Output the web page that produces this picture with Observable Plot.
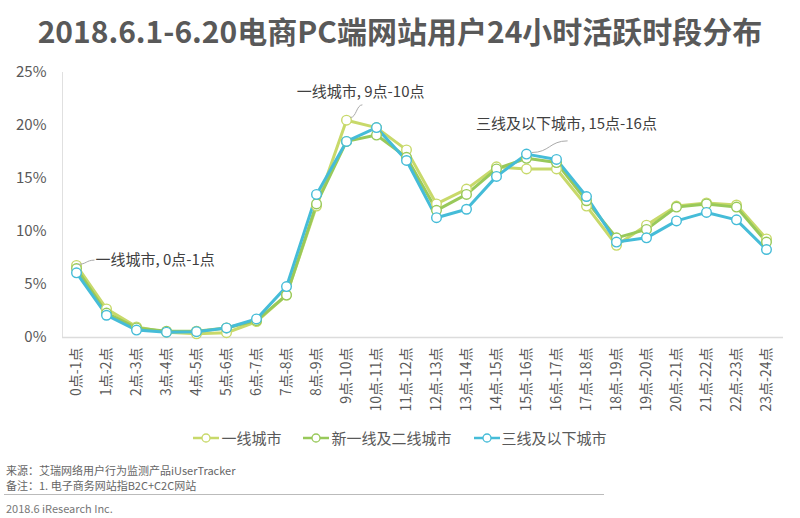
<!DOCTYPE html>
<html><head><meta charset="utf-8">
<script src="https://cdn.jsdelivr.net/npm/d3@7"></script>
<script src="https://cdn.jsdelivr.net/npm/@observablehq/plot@0.6"></script>
<style>
body{margin:0;background:#fff;font-family:"Noto Sans CJK SC","Noto Sans",sans-serif;}
#wrap{position:relative;width:800px;height:518px;overflow:hidden;background:#fff;}
#title{position:absolute;left:0;top:11px;width:800px;text-align:center;font-size:30px;font-weight:bold;color:#595959;line-height:38px;}
#chart{position:absolute;left:0;top:58px;}
#legend{position:absolute;left:0;top:427px;width:800px;display:flex;justify-content:center;gap:22px;font-size:15px;color:#595959;line-height:22px;}
#legend .item{display:flex;align-items:center;}
#legend svg{margin-right:2px;}
.foot{position:absolute;left:6px;font-size:11px;color:#666;line-height:14px;}
#sep{position:absolute;left:4px;top:494px;width:600px;height:1px;background:#bbb;}
</style></head>
<body><div id="wrap">
<div id="title">2018.6.1-6.20电商PC端网站用户24小时活跃时段分布</div>
<div id="chart"></div>
<div id="legend"></div>
<div class="foot" style="top:463px">来源：艾瑞网络用户行为监测产品iUserTracker</div>
<div class="foot" style="top:478px">备注：1. 电子商务网站指B2C+C2C网站</div>
<div id="sep"></div>
<div class="foot" style="top:501px;color:#777">2018.6 iResearch Inc.</div>
</div>
<script>
const hours = ["0点-1点","1点-2点","2点-3点","3点-4点","4点-5点","5点-6点","6点-7点","7点-8点","8点-9点","9点-10点","10点-11点","11点-12点","12点-13点","13点-14点","14点-15点","15点-16点","16点-17点","17点-18点","18点-19点","19点-20点","20点-21点","21点-22点","22点-23点","23点-24点"];
const seriesNames = ["一线城市","新一线及二线城市","三线及以下城市"];
const seriesColors = ["#c8d96a","#98c95a","#45bcd8"];
const tier1 = [6.8,2.7,1.0,0.5,0.35,0.45,1.5,4.0,12.4,20.5,19.8,17.7,12.6,14.0,16.1,15.9,15.9,12.4,8.7,10.6,12.4,12.7,12.5,9.3];
const tier2 = [6.5,2.3,0.9,0.6,0.6,0.9,1.6,4.0,12.6,18.5,19.1,17.0,12.0,13.5,15.9,16.9,16.5,12.9,9.4,10.2,12.3,12.6,12.3,9.0];
const tier3 = [6.1,2.1,0.7,0.5,0.55,0.9,1.75,4.8,13.5,18.5,19.8,16.7,11.3,12.1,15.2,17.3,16.8,13.3,9.0,9.4,11.0,11.8,11.1,8.3];
const yTicks = [0,5,10,15,20,25];
const notesLeft = [
  {text:"一线城市, 0点-1点", x:0.05, y:6.9, lx:0.6, ly:7.3, tx:0.63, ty:7.25}
];
const notesCenter = [
  {text:"一线城市, 9点-10点", x:9.13, y:20.75, lx:9.53, ly:21.95, tx:9.47, ty:23.1},
  {text:"三线及以下城市, 15点-16点", x:15.17, y:17.45, lx:16.37, ly:18.55, tx:16.33, ty:20.1}
];

const allSeries = [tier1, tier2, tier3];
const rows = allSeries.flatMap((vals, s) => vals.map((v, i) => ({i, v, s: seriesNames[s]})));
const notes = notesLeft.concat(notesCenter);

const chart = Plot.plot({
  width: 800, height: 370,
  marginTop: 14, marginBottom: 91, marginLeft: 62, marginRight: 17,
  style: {fontFamily: '"Noto Sans CJK SC","Noto Sans",sans-serif', color: "#595959", background: "#fff"},
  x: {domain: [-0.467, 23.567], label: null},
  y: {domain: [0, 25], label: null},
  color: {domain: seriesNames, range: seriesColors},
  marks: [
    Plot.ruleX([-0.467], {stroke: "#e0e0e0", strokeWidth: 1}),
    Plot.ruleY([0], {stroke: "#dcdcdc", strokeWidth: 1.5}),
    Plot.axisX({ticks: d3.range(hours.length), tickFormat: i => hours[i], tickSize: 0, tickPadding: 10, tickRotate: -90, fontSize: 14, fill: "#595959", label: null}),
    Plot.axisY({ticks: yTicks, tickFormat: d => d + "%", tickSize: 0, tickPadding: 16, fontSize: 15, fill: "#595959", label: null}),
    Plot.line(rows, {x: "i", y: "v", z: "s", stroke: "s", strokeWidth: 3}),
    Plot.dot(rows, {x: "i", y: "v", stroke: "s", fill: "#fff", r: 4.8, strokeWidth: 1.4}),
    Plot.link(notes, {x1: "x", y1: "y", x2: "lx", y2: "ly", stroke: "#aaa", strokeWidth: 1, curve: "bump-x"}),
    Plot.text(notesLeft, {x: "tx", y: "ty", text: "text", textAnchor: "start", fontSize: 15, fill: "#404040"}),
    Plot.text(notesCenter, {x: "tx", y: "ty", text: "text", textAnchor: "middle", fontSize: 15, fill: "#404040"})
  ]
});
document.getElementById("chart").appendChild(chart);

const legend = document.getElementById("legend");
seriesNames.forEach((name, k) => {
  const item = document.createElement("div");
  item.className = "item";
  item.innerHTML = `<svg width="26" height="12"><line x1="0" y1="6" x2="26" y2="6" stroke="${seriesColors[k]}" stroke-width="2.5"/><circle cx="13" cy="6" r="4" fill="#fff" stroke="${seriesColors[k]}" stroke-width="1.3"/></svg><span>${name}</span>`;
  legend.appendChild(item);
});
</script>
</body></html>
